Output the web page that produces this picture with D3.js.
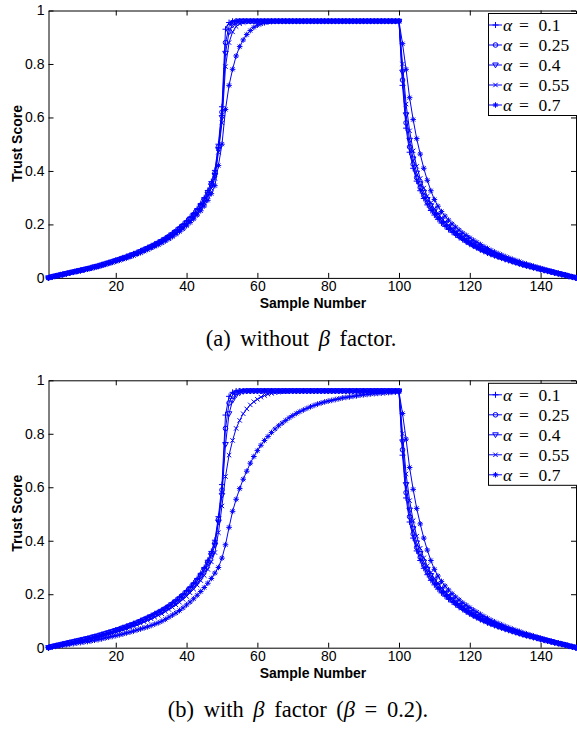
<!DOCTYPE html>
<html>
<head>
<meta charset="utf-8">
<script src="https://cdn.jsdelivr.net/npm/d3@7"></script>
<style>
body { margin: 0; background: #fff; }
svg { display: block; }
</style>
</head>
<body>
<div id="corpo"></div>
<script>
// legend labels (alpha values) and tick labels
var alphas = ["0.1", "0.25", "0.4", "0.55", "0.7"];
var xTicks = [20, 40, 60, 80, 100, 120, 140];
var yTicks = [0, 0.2, 0.4, 0.6, 0.8, 1];

// (a) without beta: samples 1..100
var topRise01 = [
0.000,0.004,0.007,0.010,0.013,0.016,0.019,0.022,0.025,0.028,
0.031,0.034,0.038,0.041,0.045,0.049,0.053,0.057,0.061,0.066,
0.070,0.075,0.080,0.085,0.090,0.095,0.101,0.107,0.113,0.120,
0.127,0.134,0.141,0.149,0.158,0.168,0.178,0.189,0.200,0.213,
0.227,0.242,0.259,0.278,0.300,0.327,0.360,0.402,0.50,0.64,
0.93,0.955,0.96,0.96,0.96,0.96,0.96,0.96,0.96,0.96,
0.96,0.96,0.96,0.96,0.96,0.96,0.96,0.96,0.96,0.96,
0.96,0.96,0.96,0.96,0.96,0.96,0.96,0.96,0.96,0.96,
0.96,0.96,0.96,0.96,0.96,0.96,0.96,0.96,0.96,0.96,
0.96,0.96,0.96,0.96,0.96,0.96,0.96,0.96,0.96,0.96];
var topRise025 = [
0.000,0.004,0.007,0.010,0.013,0.016,0.019,0.022,0.025,0.028,
0.031,0.034,0.037,0.041,0.044,0.048,0.052,0.056,0.060,0.065,
0.069,0.074,0.078,0.083,0.088,0.093,0.099,0.105,0.111,0.117,
0.124,0.131,0.138,0.146,0.155,0.164,0.174,0.185,0.196,0.208,
0.222,0.237,0.253,0.272,0.294,0.320,0.352,0.392,0.49,0.62,
0.88,0.94,0.955,0.96,0.96,0.96,0.96,0.96,0.96,0.96,
0.96,0.96,0.96,0.96,0.96,0.96,0.96,0.96,0.96,0.96,
0.96,0.96,0.96,0.96,0.96,0.96,0.96,0.96,0.96,0.96,
0.96,0.96,0.96,0.96,0.96,0.96,0.96,0.96,0.96,0.96,
0.96,0.96,0.96,0.96,0.96,0.96,0.96,0.96,0.96,0.96];
var topRise04 = [
0.000,0.004,0.007,0.010,0.013,0.016,0.019,0.022,0.025,0.028,
0.031,0.034,0.037,0.041,0.044,0.048,0.052,0.056,0.060,0.064,
0.068,0.073,0.077,0.082,0.087,0.092,0.098,0.104,0.110,0.116,
0.122,0.129,0.136,0.144,0.152,0.161,0.171,0.182,0.193,0.205,
0.218,0.233,0.249,0.267,0.288,0.313,0.344,0.383,0.48,0.60,
0.84,0.92,0.945,0.955,0.96,0.96,0.96,0.96,0.96,0.96,
0.96,0.96,0.96,0.96,0.96,0.96,0.96,0.96,0.96,0.96,
0.96,0.96,0.96,0.96,0.96,0.96,0.96,0.96,0.96,0.96,
0.96,0.96,0.96,0.96,0.96,0.96,0.96,0.96,0.96,0.96,
0.96,0.96,0.96,0.96,0.96,0.96,0.96,0.96,0.96,0.96];
var topRise055 = [
0.000,0.004,0.007,0.010,0.013,0.016,0.019,0.022,0.024,0.027,
0.030,0.033,0.036,0.040,0.043,0.047,0.051,0.055,0.059,0.063,
0.067,0.071,0.076,0.080,0.085,0.090,0.096,0.102,0.107,0.113,
0.120,0.126,0.133,0.141,0.149,0.158,0.167,0.178,0.189,0.200,
0.213,0.228,0.243,0.261,0.281,0.305,0.335,0.372,0.47,0.58,
0.79,0.88,0.92,0.94,0.95,0.955,0.96,0.96,0.96,0.96,
0.96,0.96,0.96,0.96,0.96,0.96,0.96,0.96,0.96,0.96,
0.96,0.96,0.96,0.96,0.96,0.96,0.96,0.96,0.96,0.96,
0.96,0.96,0.96,0.96,0.96,0.96,0.96,0.96,0.96,0.96,
0.96,0.96,0.96,0.96,0.96,0.96,0.96,0.96,0.96,0.96];
var topRise07 = [
0.000,0.003,0.006,0.009,0.012,0.015,0.018,0.021,0.024,0.027,
0.030,0.033,0.036,0.039,0.042,0.046,0.050,0.054,0.058,0.062,
0.066,0.070,0.074,0.079,0.084,0.089,0.094,0.100,0.106,0.112,
0.118,0.124,0.131,0.138,0.146,0.154,0.163,0.173,0.183,0.195,
0.207,0.220,0.235,0.251,0.269,0.290,0.315,0.345,0.42,0.50,
0.63,0.72,0.78,0.83,0.865,0.89,0.91,0.925,0.937,0.945,
0.95,0.954,0.957,0.959,0.96,0.96,0.96,0.96,0.96,0.96,
0.96,0.96,0.96,0.96,0.96,0.96,0.96,0.96,0.96,0.96,
0.96,0.96,0.96,0.96,0.96,0.96,0.96,0.96,0.96,0.96,
0.96,0.96,0.96,0.96,0.96,0.96,0.96,0.96,0.96,0.96];

// (b) with beta = 0.2: samples 1..100
var botRise01 = [
0.000,0.004,0.007,0.010,0.013,0.016,0.019,0.022,0.025,0.028,
0.031,0.034,0.038,0.041,0.045,0.049,0.053,0.057,0.061,0.066,
0.070,0.075,0.080,0.085,0.090,0.095,0.101,0.107,0.113,0.120,
0.127,0.134,0.141,0.149,0.158,0.168,0.178,0.189,0.200,0.213,
0.227,0.242,0.259,0.278,0.300,0.327,0.360,0.402,0.49,0.61,
0.87,0.94,0.955,0.96,0.96,0.96,0.96,0.96,0.96,0.96,
0.96,0.96,0.96,0.96,0.96,0.96,0.96,0.96,0.96,0.96,
0.96,0.96,0.96,0.96,0.96,0.96,0.96,0.96,0.96,0.96,
0.96,0.96,0.96,0.96,0.96,0.96,0.96,0.96,0.96,0.96,
0.96,0.96,0.96,0.96,0.96,0.96,0.96,0.96,0.96,0.96];
var botRise025 = [
0.000,0.004,0.007,0.010,0.013,0.016,0.019,0.022,0.025,0.028,
0.031,0.034,0.037,0.041,0.044,0.048,0.052,0.056,0.060,0.065,
0.069,0.074,0.078,0.083,0.088,0.093,0.099,0.105,0.111,0.117,
0.124,0.131,0.138,0.146,0.155,0.164,0.174,0.185,0.196,0.208,
0.222,0.237,0.253,0.272,0.294,0.320,0.352,0.392,0.48,0.59,
0.82,0.915,0.945,0.955,0.96,0.96,0.96,0.96,0.96,0.96,
0.96,0.96,0.96,0.96,0.96,0.96,0.96,0.96,0.96,0.96,
0.96,0.96,0.96,0.96,0.96,0.96,0.96,0.96,0.96,0.96,
0.96,0.96,0.96,0.96,0.96,0.96,0.96,0.96,0.96,0.96,
0.96,0.96,0.96,0.96,0.96,0.96,0.96,0.96,0.96,0.96];
var botRise04 = [
0.000,0.004,0.007,0.010,0.013,0.016,0.019,0.022,0.025,0.028,
0.031,0.034,0.037,0.041,0.044,0.048,0.052,0.056,0.060,0.064,
0.068,0.073,0.077,0.082,0.087,0.092,0.098,0.104,0.110,0.116,
0.122,0.129,0.136,0.144,0.152,0.161,0.171,0.182,0.193,0.205,
0.218,0.233,0.249,0.267,0.288,0.313,0.344,0.383,0.47,0.57,
0.76,0.875,0.925,0.945,0.953,0.958,0.96,0.96,0.96,0.96,
0.96,0.96,0.96,0.96,0.96,0.96,0.96,0.96,0.96,0.96,
0.96,0.96,0.96,0.96,0.96,0.96,0.96,0.96,0.96,0.96,
0.96,0.96,0.96,0.96,0.96,0.96,0.96,0.96,0.96,0.96,
0.96,0.96,0.96,0.96,0.96,0.96,0.96,0.96,0.96,0.96];
var botRise055 = [
0.000,0.004,0.007,0.010,0.013,0.015,0.018,0.021,0.024,0.026,
0.029,0.032,0.035,0.038,0.041,0.045,0.049,0.052,0.056,0.060,
0.064,0.068,0.072,0.077,0.081,0.086,0.091,0.097,0.102,0.108,
0.114,0.121,0.127,0.135,0.143,0.151,0.160,0.170,0.181,0.192,
0.205,0.219,0.234,0.251,0.270,0.293,0.321,0.356,0.43,0.53,
0.64,0.72,0.775,0.82,0.85,0.875,0.893,0.908,0.92,0.929,
0.937,0.943,0.948,0.951,0.954,0.956,0.958,0.959,0.96,0.96,
0.96,0.96,0.96,0.96,0.96,0.96,0.96,0.96,0.96,0.96,
0.96,0.96,0.96,0.96,0.96,0.96,0.96,0.96,0.96,0.96,
0.96,0.96,0.96,0.96,0.96,0.96,0.96,0.96,0.96,0.96];
var botRise07 = [
0.000,0.003,0.005,0.007,0.009,0.011,0.013,0.015,0.017,0.019,
0.021,0.023,0.025,0.028,0.030,0.033,0.036,0.039,0.042,0.045,
0.048,0.051,0.055,0.058,0.062,0.066,0.070,0.074,0.078,0.083,
0.088,0.093,0.099,0.106,0.114,0.122,0.130,0.139,0.149,0.160,
0.171,0.183,0.196,0.210,0.225,0.241,0.259,0.279,0.300,0.335,
0.385,0.45,0.51,0.555,0.595,0.63,0.66,0.69,0.715,0.737,
0.757,0.775,0.79,0.805,0.818,0.83,0.84,0.85,0.86,0.868,
0.876,0.883,0.889,0.895,0.901,0.906,0.911,0.915,0.919,0.922,
0.925,0.928,0.931,0.934,0.936,0.938,0.94,0.942,0.944,0.946,
0.947,0.949,0.95,0.951,0.952,0.953,0.954,0.955,0.956,0.957];

// decay after sample 100 (samples 101..150), same in both plots
var decay01 = [
0.72,0.56,0.47,0.41,0.362,0.326,0.297,0.273,0.252,0.235,
0.219,0.205,0.193,0.181,0.171,0.161,0.151,0.143,0.134,0.126,
0.119,0.112,0.105,0.099,0.093,0.088,0.083,0.078,0.074,0.069,
0.065,0.061,0.057,0.053,0.049,0.045,0.042,0.038,0.035,0.031,
0.028,0.025,0.022,0.019,0.016,0.013,0.010,0.006,0.003,0.000];
var decay025 = [
0.74,0.58,0.49,0.425,0.375,0.338,0.308,0.283,0.261,0.245,
0.228,0.213,0.200,0.188,0.177,0.166,0.156,0.147,0.138,0.130,
0.122,0.115,0.108,0.102,0.096,0.090,0.085,0.080,0.076,0.071,
0.067,0.062,0.058,0.054,0.050,0.046,0.043,0.039,0.036,0.032,
0.029,0.026,0.022,0.019,0.016,0.013,0.010,0.006,0.003,0.000];
var decay04 = [
0.77,0.61,0.515,0.445,0.392,0.352,0.320,0.293,0.270,0.250,
0.233,0.217,0.203,0.191,0.179,0.168,0.158,0.149,0.140,0.131,
0.123,0.116,0.109,0.103,0.097,0.091,0.086,0.081,0.076,0.072,
0.067,0.063,0.059,0.054,0.050,0.047,0.043,0.040,0.036,0.033,
0.029,0.026,0.023,0.019,0.016,0.013,0.010,0.006,0.003,0.000];
var decay055 = [
0.80,0.65,0.55,0.475,0.417,0.372,0.336,0.306,0.281,0.259,
0.241,0.224,0.209,0.196,0.184,0.172,0.162,0.152,0.143,0.134,
0.126,0.118,0.111,0.104,0.098,0.092,0.087,0.082,0.077,0.073,
0.068,0.064,0.059,0.055,0.051,0.047,0.044,0.040,0.037,0.033,
0.030,0.026,0.023,0.020,0.017,0.013,0.010,0.007,0.003,0.000];
var decay07 = [
0.876,0.78,0.674,0.592,0.521,0.463,0.41,0.365,0.326,0.293,
0.268,0.248,0.231,0.216,0.202,0.19,0.179,0.168,0.159,0.15,
0.141,0.133,0.125,0.117,0.110,0.103,0.097,0.091,0.086,0.080,
0.075,0.070,0.065,0.061,0.056,0.052,0.048,0.044,0.040,0.036,
0.032,0.028,0.025,0.021,0.018,0.014,0.011,0.007,0.004,0.000];

var decays = [decay01, decay025, decay04, decay055, decay07];

var width = 577, height = 729;
var left = 48.5, right = 576, plotH = 267.4;
var blue = "#0000ff";

var svg = d3.select("#corpo").append("svg")
    .attr("width", width)
    .attr("height", height);

var x = d3.scaleLinear().domain([1, 150]).range([left, right]);

// matlab-ish markers: + o v x *
var markers = [
    "M-3,0H3M0,-3V3",
    "M2.3,0A2.3,2.3 0 1,1 -2.3,0A2.3,2.3 0 1,1 2.3,0Z",
    "M-2.8,-2L2.8,-2L0,2.8Z",
    "M-2.2,-2.2L2.2,2.2M-2.2,2.2L2.2,-2.2",
    "M-2.8,0H2.8M0,-2.8V2.8M-2,-2L2,2M-2,2L2,-2"
];

function styleAxis(sel) {
    sel.attr("font-family", "'Liberation Sans', Arial, Helvetica, sans-serif")
       .attr("font-size", 14);
    sel.selectAll("path, line").attr("stroke", "#000");
    sel.selectAll("text").attr("fill", "#000");
}

function drawPanel(top, rises, captionParts, captionX, captionY) {
    var y = d3.scaleLinear().domain([0, 1]).range([top + plotH, top]);
    var g = svg.append("g");

    g.append("g").attr("transform", "translate(0," + (top + plotH) + ")")
        .call(d3.axisBottom(x).tickValues(xTicks).tickSize(-5).tickSizeOuter(0).tickPadding(3.5))
        .call(styleAxis);
    g.append("g").attr("transform", "translate(0," + top + ")")
        .call(d3.axisTop(x).tickValues(xTicks).tickSize(-5).tickSizeOuter(0).tickFormat(""))
        .call(styleAxis);
    g.append("g").attr("transform", "translate(" + left + ",0)")
        .call(d3.axisLeft(y).tickValues(yTicks).tickSize(-5).tickSizeOuter(0).tickPadding(4)
            .tickFormat(function(d) { return String(d); }))
        .call(styleAxis);
    g.append("g").attr("transform", "translate(" + right + ",0)")
        .call(d3.axisRight(y).tickValues(yTicks).tickSize(-5).tickSizeOuter(0).tickFormat(""))
        .call(styleAxis);

    var line = d3.line()
        .x(function(d, i) { return x(i + 1); })
        .y(function(d) { return y(d); });

    rises.forEach(function(r, k) {
        var data = r.concat(decays[k]);
        var s = g.append("g");
        s.append("path")
            .attr("d", line(data))
            .attr("fill", "none")
            .attr("stroke", blue)
            .attr("stroke-width", 1);
        s.selectAll(".mk").data(data).enter().append("path")
            .attr("class", "mk")
            .attr("transform", function(d, i) { return "translate(" + x(i + 1) + "," + y(d) + ")"; })
            .attr("d", markers[k])
            .attr("fill", "none")
            .attr("stroke", blue)
            .attr("stroke-width", 1);
    });

    // axis titles
    g.append("text")
        .attr("transform", "translate(22," + (top + 133) + ") rotate(-90)")
        .attr("text-anchor", "middle")
        .attr("font-family", "'Liberation Sans', Arial, sans-serif")
        .attr("font-weight", "bold")
        .attr("font-size", 14)
        .text("Trust Score");
    g.append("text")
        .attr("x", 313).attr("y", top + 297.5)
        .attr("text-anchor", "middle")
        .attr("font-family", "'Liberation Sans', Arial, sans-serif")
        .attr("font-weight", "bold")
        .attr("font-size", 14)
        .text("Sample Number");

    // legend
    var lg = g.append("g");
    lg.append("rect")
        .attr("x", 488.5).attr("y", top + 3)
        .attr("width", 100).attr("height", 102)
        .attr("fill", "#fff").attr("stroke", "#000");
    alphas.forEach(function(a, k) {
        var ly = top + 14.5 + k * 20;
        lg.append("line").attr("x1", 489).attr("x2", 502).attr("y1", ly).attr("y2", ly)
            .attr("stroke", blue).attr("stroke-width", 1);
        lg.append("path").attr("transform", "translate(495.5," + ly + ")")
            .attr("d", markers[k]).attr("fill", "none").attr("stroke", blue).attr("stroke-width", 1);
        var t = lg.append("text").attr("y", ly + 6)
            .attr("font-family", "'Liberation Serif', 'Times New Roman', serif")
            .attr("font-size", 17.5).attr("fill", "#000");
        t.append("tspan").attr("x", 503).attr("font-style", "italic").text("α");
        t.append("tspan").attr("x", 519).text("=");
        t.append("tspan").attr("x", 538.5).text(a);
    });

    // caption
    var c = svg.append("text")
        .attr("x", captionX).attr("y", captionY)
        .attr("text-anchor", "middle")
        .attr("font-family", "'Liberation Serif', 'Times New Roman', serif")
        .attr("font-size", 22.5)
        .attr("word-spacing", 4)
        .attr("fill", "#000");
    captionParts.forEach(function(p) {
        c.append("tspan").attr("font-style", p[1] ? "italic" : null).text(p[0]);
    });
}

drawPanel(10.5, [topRise01, topRise025, topRise04, topRise055, topRise07],
    [["(a) without ", false], ["β", true], [" factor.", false]], 301, 346);
drawPanel(380.3, [botRise01, botRise025, botRise04, botRise055, botRise07],
    [["(b) with ", false], ["β", true], [" factor (", false], ["β", true], [" = 0.2).", false]], 298, 716.5);
</script>
</body>
</html>
